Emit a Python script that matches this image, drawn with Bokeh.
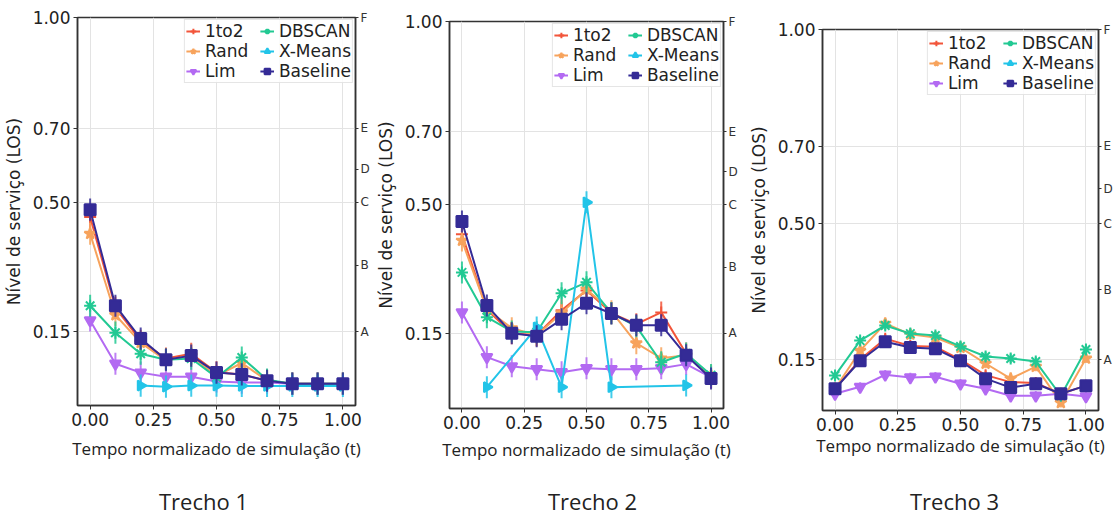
import numpy as np
from bokeh.plotting import figure
from bokeh.layouts import row, column
from bokeh.models import Range1d, LinearAxis, FixedTicker, Legend, LegendItem, Label
from bokeh.embed import file_html
from bokeh.resources import INLINE

# ---------------- data ----------------
T = [0.0, 0.1, 0.2, 0.3, 0.4, 0.5, 0.6, 0.7, 0.8, 0.9, 1.0]

# Trecho 1
P1_1TO2 = [0.46, 0.215, 0.125, 0.077, 0.090, 0.040, 0.034, 0.017, 0.009, 0.009, 0.009]
P1_RAND = [0.415, 0.195, 0.120, 0.072, 0.085, 0.030, 0.065, 0.017, 0.009, 0.009, 0.009]
P1_LIM = [0.180, 0.063, 0.039, 0.028, 0.028, 0.015, 0.012, 0.012, 0.009, 0.009, 0.009]
P1_DBSCAN = [0.220, 0.147, 0.090, 0.074, 0.077, 0.026, 0.080, 0.020, 0.009, 0.009, 0.009]
P1_XM_T = [0.2, 0.3, 0.4, 0.5, 0.6, 0.7, 0.8, 0.9, 1.0]
P1_XMEANS = [0.004, 0.001, 0.004, 0.004, 0.003, 0.003, 0.003, 0.003, 0.003]
P1_BASE = [0.480, 0.220, 0.131, 0.074, 0.085, 0.039, 0.034, 0.017, 0.009, 0.009, 0.009]

# Trecho 2
P2_1TO2 = [0.420, 0.215, 0.150, 0.145, 0.213, 0.267, 0.205, 0.175, 0.207, 0.095, 0.030]
P2_RAND = [0.403, 0.215, 0.164, 0.145, 0.205, 0.270, 0.210, 0.123, 0.082, 0.090, 0.035]
P2_LIM = [0.207, 0.085, 0.060, 0.052, 0.044, 0.055, 0.052, 0.052, 0.055, 0.066, 0.030]
P2_DBSCAN = [0.316, 0.194, 0.155, 0.153, 0.259, 0.289, 0.205, 0.169, 0.071, 0.095, 0.036]
P2_XM_T = [0.1, 0.3, 0.4, 0.5, 0.6, 0.9]
P2_XMEANS = [0.003, 0.166, 0.003, 0.507, 0.003, 0.008]
P2_BASE = [0.455, 0.226, 0.150, 0.142, 0.188, 0.232, 0.204, 0.172, 0.172, 0.090, 0.027]

# Trecho 3 (X-Means has no visible points here)
P3_1TO2 = [0.075, 0.150, 0.204, 0.185, 0.183, 0.150, 0.110, 0.092, 0.090, 0.062, 0.083]
P3_RAND = [0.075, 0.173, 0.243, 0.215, 0.207, 0.181, 0.140, 0.101, 0.132, 0.039, 0.153]
P3_LIM = [0.062, 0.080, 0.111, 0.104, 0.106, 0.088, 0.075, 0.057, 0.057, 0.062, 0.055]
P3_DBSCAN = [0.109, 0.199, 0.238, 0.217, 0.212, 0.184, 0.158, 0.153, 0.145, 0.057, 0.176]
P3_XM_T = []
P3_XMEANS = []
P3_BASE = [0.075, 0.147, 0.196, 0.181, 0.178, 0.147, 0.101, 0.078, 0.088, 0.062, 0.083]

ERR = [0.03, 0.03, 0.012]  # half-length of error bars per panel

SERIES = ["1to2", "Rand", "Lim", "DBSCAN", "X-Means", "Baseline"]
COLORS = ["#f2553a", "#f7a35c", "#b36af2", "#22c993", "#22c4e8", "#342b96"]
MARKERS = ["cross", "star", "inverted_triangle", "asterisk", "triangle", "square"]

Y_TICKS = [0.15, 0.50, 0.70, 1.00]
Y_LABELS = ["0.15", "0.50", "0.70", "1.00"]
X_TICKS = [0.0, 0.25, 0.5, 0.75, 1.0]
X_LABELS = ["0.00", "0.25", "0.50", "0.75", "1.00"]
LOS_TICKS = [0.15, 0.33, 0.50, 0.59, 0.70, 1.00]
LOS_LABELS = ["A", "B", "C", "D", "E", "F"]

TITLES = ["Trecho 1", "Trecho 2", "Trecho 3"]
Y_START = [-0.05, -0.055, 0.019]

MAIN_H = 470
TITLE_H = 516 - MAIN_H


def make_panel(idx, data, xm_t, xm_v, width, bl, br, bt, bb, xlab_standoff):
    p = figure(width=width, height=MAIN_H, output_backend="svg", toolbar_location=None,
               x_range=Range1d(-0.05, 1.05), y_range=Range1d(Y_START[idx], 1.0),
               min_border_left=bl, min_border_right=br, min_border_top=bt,
               min_border_bottom=bb)
    p.outline_line_color = "#333333"
    p.outline_line_width = 1.5
    p.background_fill_color = "white"
    p.border_fill_color = "white"

    xa = p.xaxis[0]
    xa.ticker = FixedTicker(ticks=X_TICKS)
    xa.major_label_overrides = dict(zip(X_TICKS, X_LABELS))
    ya = p.yaxis[0]
    ya.ticker = FixedTicker(ticks=Y_TICKS)
    ya.major_label_overrides = dict(zip(Y_TICKS, Y_LABELS))
    for ax in (xa, ya):
        ax.major_label_text_font = "DejaVu Sans"
        ax.major_label_text_font_size = "17px"
        ax.major_label_text_color = "#222222"
        ax.axis_line_color = "#333333"
        ax.axis_line_width = 1.5
        ax.major_tick_line_color = "#333333"
        ax.major_tick_out = 4
        ax.major_tick_in = 0
        ax.minor_tick_line_color = None
        ax.major_label_standoff = 3
        ax.axis_label_text_font_style = "normal"
        ax.axis_label_text_color = "#222222"
    xa.axis_label = "Tempo normalizado de simulação (t)"
    xa.axis_label_text_font = "Open Sans"
    xa.axis_label_text_font_size = "17px"
    xa.axis_label_standoff = xlab_standoff
    ya.axis_label = "Nível de serviço (LOS)"
    ya.axis_label_text_font = "DejaVu Sans"
    ya.axis_label_text_font_size = "17px"
    ya.axis_label_standoff = 6

    ra = LinearAxis(ticker=FixedTicker(ticks=LOS_TICKS),
                    major_label_overrides=dict(zip(LOS_TICKS, LOS_LABELS)))
    ra.major_label_text_font = "DejaVu Sans"
    ra.major_label_text_font_size = "12px"
    ra.major_label_text_color = "#333333"
    ra.axis_line_color = "#333333"
    ra.axis_line_width = 1.5
    ra.major_tick_out = 3
    ra.major_tick_in = 0
    ra.major_tick_line_color = "#333333"
    ra.minor_tick_line_color = None
    ra.major_label_standoff = 2
    p.add_layout(ra, "right")

    p.xgrid.ticker = FixedTicker(ticks=X_TICKS)
    p.ygrid.ticker = FixedTicker(ticks=Y_TICKS)
    p.grid.grid_line_color = "#e3e3e3"
    p.grid.grid_line_width = 1

    items = []
    for k, name in enumerate(SERIES):
        if name == "X-Means":
            xs, ys = xm_t, xm_v
        else:
            xs, ys = T, data[name]
        if len(xs) == 0:
            xs, ys = [np.nan], [np.nan]
        xs = np.array(xs, dtype=float)
        ys = np.array(ys, dtype=float)
        c = COLORS[k]
        p.segment(x0=xs, y0=ys - ERR[idx], x1=xs, y1=ys + ERR[idx],
                  line_color=c, line_width=2, line_alpha=0.85)
        ln = p.line(xs, ys, line_color=c, line_width=2)
        kw = {}
        if MARKERS[k] == "triangle":
            kw["angle"] = -np.pi / 2
        size = {"square": 11, "triangle": 10, "inverted_triangle": 11}.get(MARKERS[k], 12)
        sc = p.scatter(xs, ys, marker=MARKERS[k], size=size, fill_color=c,
                       line_color=c, line_width=2, **kw)
        items.append(LegendItem(label=name, renderers=[ln, sc]))

    leg = Legend(items=items, location="top_right", orientation="vertical", nrows=3)
    leg.label_text_font = "DejaVu Sans"
    leg.label_text_font_size = "17px"
    leg.label_text_color = "#222222"
    leg.label_height = 20
    leg.label_width = 55
    leg.glyph_height = 14
    leg.glyph_width = 14
    leg.label_standoff = 5
    leg.spacing = 0
    leg.padding = 1
    leg.margin = 2
    leg.border_line_color = "#cccccc"
    leg.background_fill_alpha = 0.85
    p.add_layout(leg)
    return p


def make_title(idx, width, tx):
    t = figure(width=width, height=TITLE_H, output_backend="svg", toolbar_location=None,
               x_axis_type=None, y_axis_type=None, min_border=0,
               x_range=Range1d(0, 1), y_range=Range1d(0, 1))
    t.outline_line_color = None
    t.grid.visible = False
    t.background_fill_color = "white"
    t.border_fill_color = "white"
    lab = Label(x=tx, y=16, x_units="screen", y_units="screen", text=TITLES[idx],
                text_align="center", text_baseline="middle", text_font="Open Sans",
                text_font_size="22px", text_color="#222222")
    t.add_layout(lab)
    return t


d1 = {"1to2": P1_1TO2, "Rand": P1_RAND, "Lim": P1_LIM, "DBSCAN": P1_DBSCAN, "Baseline": P1_BASE}
d2 = {"1to2": P2_1TO2, "Rand": P2_RAND, "Lim": P2_LIM, "DBSCAN": P2_DBSCAN, "Baseline": P2_BASE}
d3 = {"1to2": P3_1TO2, "Rand": P3_RAND, "Lim": P3_LIM, "DBSCAN": P3_DBSCAN, "Baseline": P3_BASE}

W = [372, 373, 370]
p1 = make_panel(0, d1, P1_XM_T, P1_XMEANS, W[0], 73, 17, 17, MAIN_H - 405, 8)
p2 = make_panel(1, d2, P2_XM_T, P2_XMEANS, W[1], 70, 22, 21, MAIN_H - 408, 6)
p3 = make_panel(2, d3, P3_XM_T, P3_XMEANS, W[2], 77, 17, 29, MAIN_H - 410, 0)
# title label x is measured from the (column-aligned) frame's left edge
t1 = make_title(0, W[0], 126)
t2 = make_title(1, W[1], 143)
t3 = make_title(2, W[2], 132)

layout = row(column(p1, t1, spacing=0), column(p2, t2, spacing=0),
             column(p3, t3, spacing=0), spacing=0)
open("out.html", "w").write(file_html(layout, INLINE))
